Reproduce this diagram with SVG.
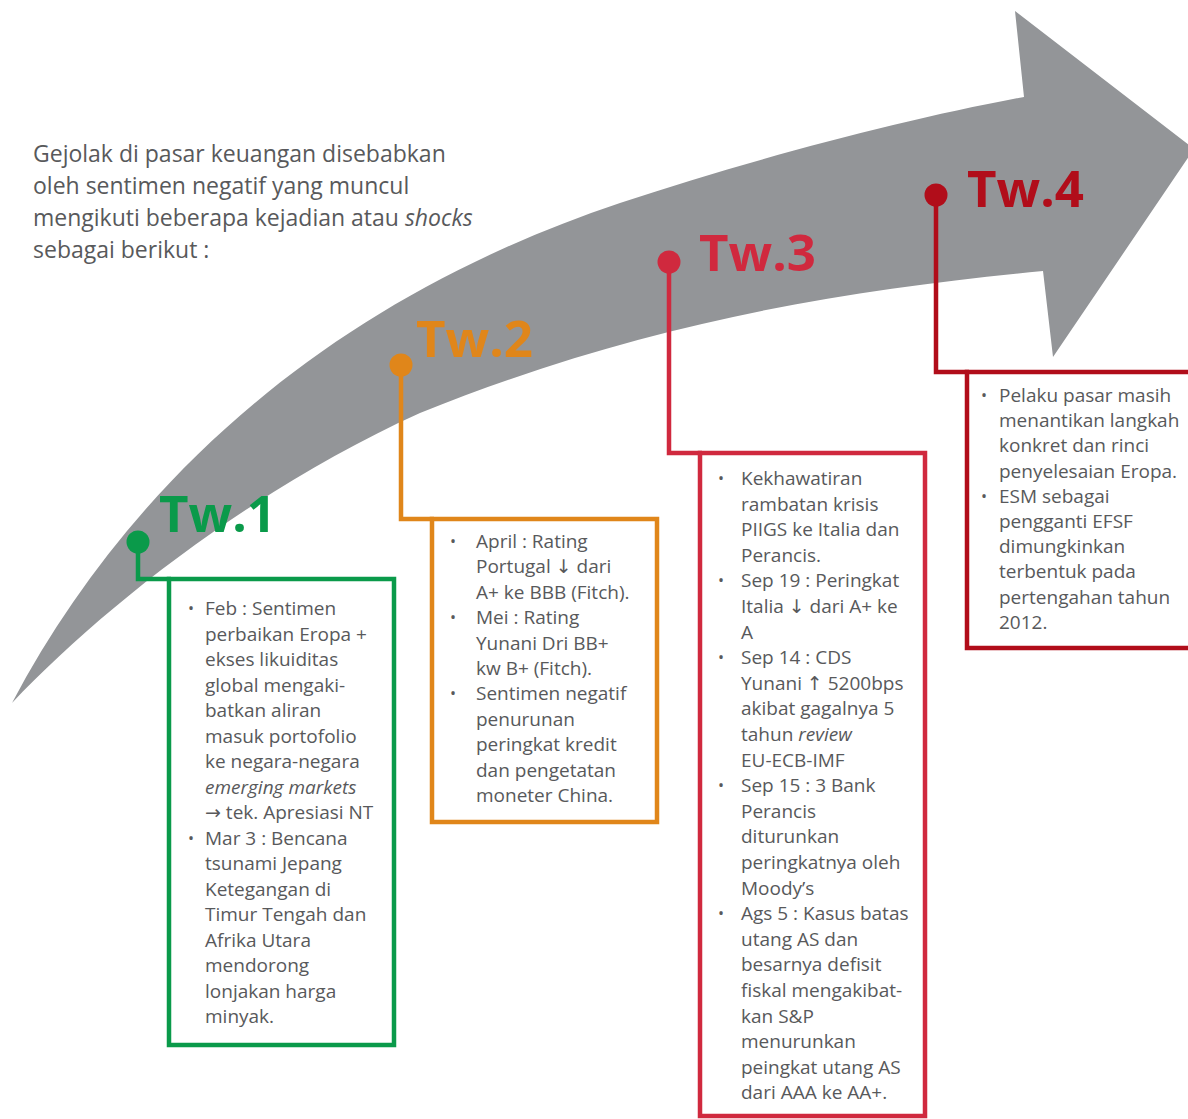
<svg xmlns="http://www.w3.org/2000/svg" width="1188" height="1119" viewBox="0 0 1188 1119">
<style>
.intro{font-family:"Open Sans","Noto Sans",sans-serif;font-size:23px;fill:#58595b}
.body{font-family:"Open Sans","Noto Sans","DejaVu Sans",sans-serif;font-size:19px;fill:#58595b}
.bul{font-family:"Open Sans","DejaVu Sans",sans-serif;font-size:16px;fill:#58595b}
.tw{font-family:"Open Sans","Noto Sans",sans-serif;font-weight:700;font-size:51px}
.box{fill:#ffffff;stroke-width:4.5}
.conn{fill:none;stroke-width:4.5;stroke-linejoin:miter}
.g{stroke:#0a9a4a}.gf{fill:#0a9a4a}
.o{stroke:#e0861a}.of{fill:#e0861a}
.r{stroke:#d0293e}.rf{fill:#d0293e}
.d{stroke:#b10d1a}.df{fill:#b10d1a}
</style>
<rect width="1188" height="1119" fill="#ffffff"/>
<path id="arrow" d="M12,703 C130,480 330,300 620,203 C750,160 900,120 1024,97 L1015,11 L1194,149 L1053,357 L1043,271 C850,290 650,320 420,413 C250,490 100,610 12,703 Z" fill="#939598"/>
<text class="intro" x="33"><tspan x="33" y="162">Gejolak di pasar keuangan disebabkan</tspan><tspan x="33" y="194">oleh sentimen negatif yang muncul</tspan><tspan x="33" y="226">mengikuti beberapa kejadian atau <tspan font-style="italic">shocks</tspan></tspan><tspan x="33" y="258">sebagai berikut :</tspan></text>
<g id="connectors">
<path class="conn g" d="M138,542 V579 H171"/>
<path class="conn o" d="M401,365 V519 H434"/>
<path class="conn r" d="M669,262 V453 H702"/>
<path class="conn d" d="M936,195 V372 H969"/>
</g>
<g id="tw1">
<circle cx="138" cy="542" r="11.5" class="gf"/>
<text class="tw gf" x="159" y="532">Tw.1</text>
<rect class="box g" x="169" y="579" width="225" height="466"/>
<text class="bul" x="188" y="614">•</text><text class="bul" x="188" y="843.5">•</text>
<text class="body"><tspan x="205" y="615">Feb : Sentimen</tspan><tspan x="205" y="640.5">perbaikan Eropa +</tspan><tspan x="205" y="666">ekses likuiditas</tspan><tspan x="205" y="691.5">global mengaki-</tspan><tspan x="205" y="717">batkan aliran</tspan><tspan x="205" y="742.5">masuk portofolio</tspan><tspan x="205" y="768">ke negara-negara</tspan><tspan x="205" y="793.5" font-style="italic">emerging markets</tspan><tspan x="205" y="819">→ tek. Apresiasi NT</tspan><tspan x="205" y="844.5">Mar 3 : Bencana</tspan><tspan x="205" y="870">tsunami Jepang</tspan><tspan x="205" y="895.5">Ketegangan di</tspan><tspan x="205" y="921">Timur Tengah dan</tspan><tspan x="205" y="946.5">Afrika Utara</tspan><tspan x="205" y="972">mendorong</tspan><tspan x="205" y="997.5">lonjakan harga</tspan><tspan x="205" y="1023">minyak.</tspan></text>
</g>
<g id="tw2">
<circle cx="401" cy="365" r="11.5" class="of"/>
<text class="tw of" x="416" y="357">Tw.2</text>
<rect class="box o" x="432" y="519" width="225" height="303"/>
<text class="bul" x="450" y="547">•</text><text class="bul" x="450" y="623">•</text><text class="bul" x="450" y="699">•</text>
<text class="body"><tspan x="476" y="548">April : Rating</tspan><tspan x="476" y="573.4">Portugal ↓ dari</tspan><tspan x="476" y="598.8">A+ ke BBB (Fitch).</tspan><tspan x="476" y="624.2">Mei : Rating</tspan><tspan x="476" y="649.6">Yunani Dri BB+</tspan><tspan x="476" y="675">kw B+ (Fitch).</tspan><tspan x="476" y="700.4">Sentimen negatif</tspan><tspan x="476" y="725.8">penurunan</tspan><tspan x="476" y="751.2">peringkat kredit</tspan><tspan x="476" y="776.6">dan pengetatan</tspan><tspan x="476" y="802">moneter China.</tspan></text>
</g>
<g id="tw3">
<circle cx="669" cy="262" r="11.5" class="rf"/>
<text class="tw rf" x="699" y="271">Tw.3</text>
<rect class="box r" x="700" y="453" width="225" height="663"/>
<text class="bul" x="718" y="484">•</text><text class="bul" x="718" y="586.4">•</text><text class="bul" x="718" y="663.2">•</text><text class="bul" x="718" y="791.2">•</text><text class="bul" x="718" y="919.2">•</text>
<text class="body"><tspan x="741" y="485">Kekhawatiran</tspan><tspan x="741" y="510.6">rambatan krisis</tspan><tspan x="741" y="536.2">PIIGS ke Italia dan</tspan><tspan x="741" y="561.8">Perancis.</tspan><tspan x="741" y="587.4">Sep 19 : Peringkat</tspan><tspan x="741" y="613">Italia ↓ dari A+ ke</tspan><tspan x="741" y="638.6">A</tspan><tspan x="741" y="664.2">Sep 14 : CDS</tspan><tspan x="741" y="689.8">Yunani ↑ 5200bps</tspan><tspan x="741" y="715.4">akibat gagalnya 5</tspan><tspan x="741" y="741">tahun <tspan font-style="italic">review</tspan></tspan><tspan x="741" y="766.6">EU-ECB-IMF</tspan><tspan x="741" y="792.2">Sep 15 : 3 Bank</tspan><tspan x="741" y="817.8">Perancis</tspan><tspan x="741" y="843.4">diturunkan</tspan><tspan x="741" y="869">peringkatnya oleh</tspan><tspan x="741" y="894.6">Moody’s</tspan><tspan x="741" y="920.2">Ags 5 : Kasus batas</tspan><tspan x="741" y="945.8">utang AS dan</tspan><tspan x="741" y="971.4">besarnya defisit</tspan><tspan x="741" y="997">fiskal mengakibat-</tspan><tspan x="741" y="1022.6">kan S&amp;P</tspan><tspan x="741" y="1048.2">menurunkan</tspan><tspan x="741" y="1073.8">peingkat utang AS</tspan><tspan x="741" y="1099.4">dari AAA ke AA+.</tspan></text>
</g>
<g id="tw4">
<circle cx="936" cy="195" r="11.5" class="df"/>
<text class="tw df" x="967" y="207">Tw.4</text>
<rect class="box d" x="967" y="372" width="240" height="276"/>
<text class="bul" x="981" y="401">•</text><text class="bul" x="981" y="502">•</text>
<text class="body"><tspan x="999" y="402">Pelaku pasar masih</tspan><tspan x="999" y="427.2">menantikan langkah</tspan><tspan x="999" y="452.4">konkret dan rinci</tspan><tspan x="999" y="477.6">penyelesaian Eropa.</tspan><tspan x="999" y="502.8">ESM sebagai</tspan><tspan x="999" y="528">pengganti EFSF</tspan><tspan x="999" y="553.2">dimungkinkan</tspan><tspan x="999" y="578.4">terbentuk pada</tspan><tspan x="999" y="603.6">pertengahan tahun</tspan><tspan x="999" y="628.8">2012.</tspan></text>
</g>
</svg>
